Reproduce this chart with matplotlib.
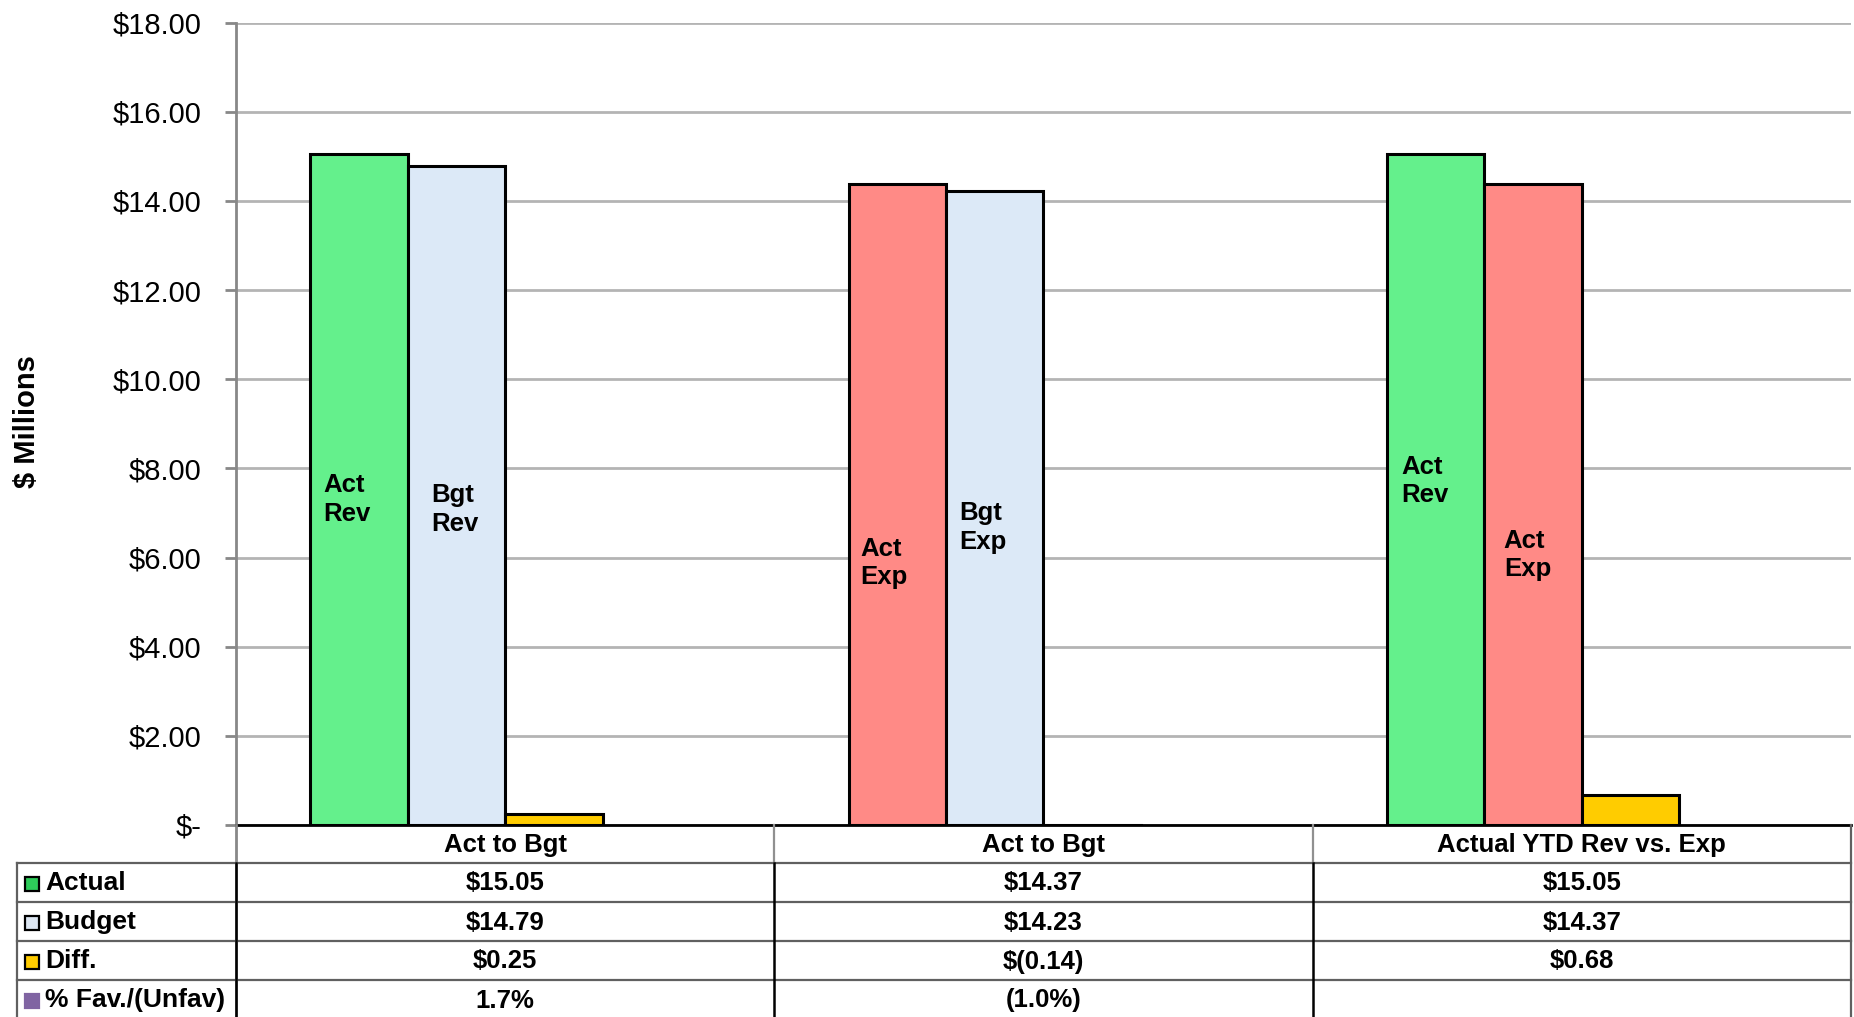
import matplotlib.pyplot as plt
from matplotlib.lines import Line2D
from matplotlib.patches import Rectangle

# === Datos ($ millones) ===
categorias = ["Act to Bgt", "Act to Bgt", "Actual YTD Rev vs. Exp"]
actual = [15.05, 14.37, 15.05]
budget = [14.79, 14.23, 14.37]
diff = [0.25, -0.14, 0.68]
pct_fav = ["1.7%", "(1.0%)", ""]

etiquetas_actual = ["Act\nRev", "Act\nExp", "Act\nRev"]
etiquetas_budget = ["Bgt\nRev", "Bgt\nExp", "Act\nExp"]
# altura (en $M) donde va el centro de cada etiqueta
alto_etq_actual = [7.31, 5.88, 7.72]
alto_etq_budget = [7.07, 6.68, 6.06]

filas_tabla = ["Actual", "Budget", "Diff.", "% Fav./(Unfav)"]

# === Colores ===
VERDE = "#64F08C"
ROJO = "#FF8A86"
AZUL = "#DCE9F7"
AMARILLO = "#FFCC00"
MORADO = "#8064A2"
colores_actual = [VERDE, ROJO, VERDE]
colores_budget = [AZUL, AZUL, ROJO]
colores_leyenda = ["#2ECC5A", "#DCE6F2", AMARILLO, MORADO]

plt.rcParams["font.family"] = ["Liberation Sans", "DejaVu Sans"]

W, H = 1854, 1017
fig = plt.figure(figsize=(W / 100, H / 100), dpi=100)

# posiciones en pixeles del area del grafico
x0, x1 = 236, 1851
y_top, y_cero = 22.7, 825
ax = fig.add_axes([x0 / W, 1 - y_cero / H, (x1 - x0) / W, (y_cero - y_top) / H])

n = len(categorias)
ancho = 0.181
xs = list(range(n))


def fmt(v):
    if v < 0:
        return f"$({abs(v):.2f})"
    return f"${v:.2f}"


borde = dict(edgecolor="black", linewidth=2.2, zorder=3)
ax.bar([x - 1.5 * ancho for x in xs], actual, ancho, color=colores_actual, **borde)
ax.bar([x - 0.5 * ancho for x in xs], budget, ancho, color=colores_budget, **borde)
ax.bar([x + 0.5 * ancho for x in xs], diff, ancho, color=AMARILLO, **borde)

# etiquetas dentro de las barras
desp_actual = [0.024, 0.022, 0.026]
desp_budget = [0.044, 0.024, 0.036]
for i in range(n):
    ax.text(i - 2 * ancho + desp_actual[i], alto_etq_actual[i], etiquetas_actual[i],
            ha="left", va="center", fontsize=18.5, fontweight="bold", zorder=4,
            linespacing=1.25)
    ax.text(i - ancho + desp_budget[i], alto_etq_budget[i], etiquetas_budget[i],
            ha="left", va="center", fontsize=18.5, fontweight="bold", zorder=4,
            linespacing=1.25)

ax.set_xlim(-0.5, n - 0.5)
ax.set_ylim(0, 18)
ax.set_yticks(range(0, 19, 2))
ax.set_yticklabels(["$-"] + [f"${v:.2f}" for v in range(2, 19, 2)], fontsize=21)
ax.tick_params(axis="y", length=8, width=2, color="#888888", pad=17)
ax.set_xticks([])
ax.grid(axis="y", color="#B4B4B4", linewidth=2)
ax.set_axisbelow(True)
for lado in ["top", "right", "bottom"]:
    ax.spines[lado].set_visible(False)
ax.spines["left"].set_color("#888888")
ax.spines["left"].set_linewidth(2)
ax.axhline(0, color="black", linewidth=2, zorder=5, clip_on=False)

fig.text(27 / W, 1 - 422 / H, "$ Millions", rotation=90, ha="center", va="center",
         fontsize=21, fontweight="bold")


# === Tabla de datos debajo del grafico ===
def px(x, y):
    return x / W, 1 - y / H


def linea(xa, ya, xb, yb, color="#606060", lw=1.6):
    (fx0, fy0), (fx1, fy1) = px(xa, ya), px(xb, yb)
    fig.add_artist(Line2D([fx0, fx1], [fy0, fy1], color=color, linewidth=lw))


bordes_col = [x0 + (x1 - x0) * k / n for k in range(n + 1)]
y_filas = [825, 863, 902, 941, 980, 1019]
x_tabla = 17

# lineas horizontales
for y in y_filas[1:-1]:
    linea(x_tabla, y, x1, y)
# lineas verticales
linea(x_tabla, y_filas[1], x_tabla, H)
linea(x0, y_cero, x0, H, color="#888888", lw=2)
linea(x0, y_filas[1], x0, H, color="black", lw=1.8)
for xb in bordes_col[1:-1]:
    linea(xb, y_cero, xb, y_filas[1], color="#909090")
    linea(xb, y_filas[1], xb, H, color="black", lw=1.8)
linea(x1, y_cero, x1, H, color="#606060")

# encabezados de columna
for i in range(n):
    cx = (bordes_col[i] + bordes_col[i + 1]) / 2
    fig.text(*px(cx, (y_filas[0] + y_filas[1]) / 2 + 1), categorias[i], ha="center",
             va="center", fontsize=18.5, fontweight="bold")

valores_tabla = [
    [fmt(v) for v in actual],
    [fmt(v) for v in budget],
    [fmt(v) for v in diff],
    pct_fav,
]

for r, nombre in enumerate(filas_tabla):
    cy = (y_filas[r + 1] + y_filas[r + 2]) / 2 + 1
    # marcador de la serie
    lado = 14
    fx, fy = px(25, cy + lado / 2)
    con_borde = r < 3
    fig.add_artist(Rectangle((fx, fy), lado / W, lado / H, transform=fig.transFigure,
                             facecolor=colores_leyenda[r],
                             edgecolor="black" if con_borde else colores_leyenda[r],
                             linewidth=1.6))
    fig.text(*px(45, cy), nombre, ha="left", va="center", fontsize=19, fontweight="bold")
    for i in range(n):
        cx = (bordes_col[i] + bordes_col[i + 1]) / 2
        fig.text(*px(cx, cy), valores_tabla[r][i], ha="center", va="center",
                 fontsize=18.5, fontweight="bold")

fig.savefig("out.png", dpi=100)
plt.close(fig)
